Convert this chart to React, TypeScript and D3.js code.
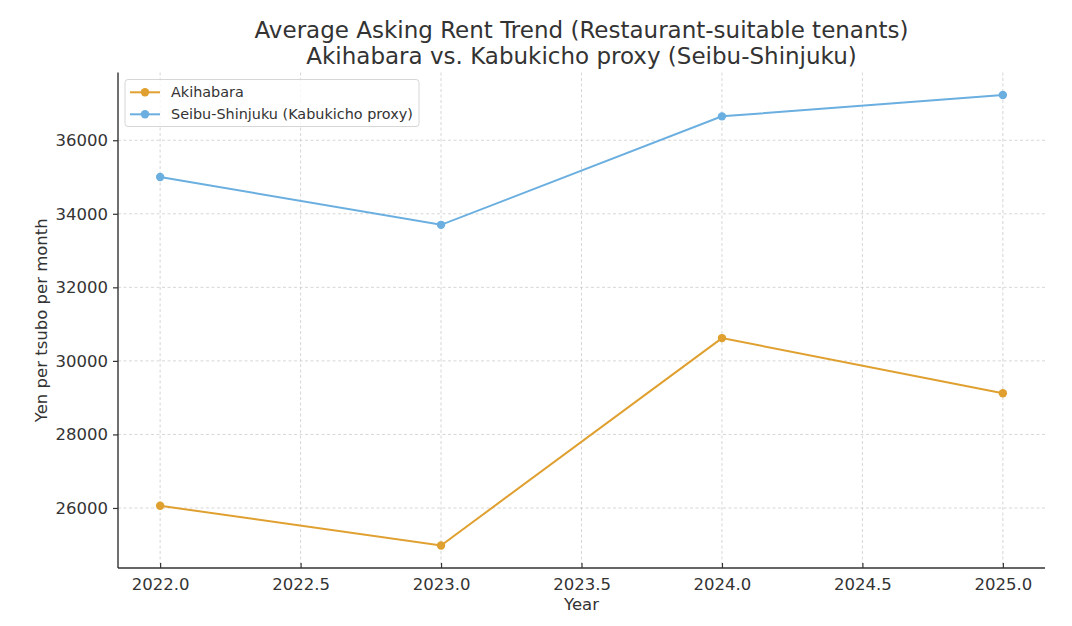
import { useEffect, useRef } from "react";
import * as d3 from "d3";

const years = [2022, 2023, 2024, 2025];
const akihabara = [26060, 24980, 30620, 29120];
const seibuShinjuku = [35000, 33700, 36650, 37230];
const xTicks = [2022.0, 2022.5, 2023.0, 2023.5, 2024.0, 2024.5, 2025.0];
const yTicks = [26000, 28000, 30000, 32000, 34000, 36000];
const seriesNames = ["Akihabara", "Seibu-Shinjuku (Kabukicho proxy)"];
const titleLines = [
    "Average Asking Rent Trend (Restaurant-suitable tenants)",
    "Akihabara vs. Kabukicho proxy (Seibu-Shinjuku)",
];

const W = 1072;
const H = 626;
const FONT = "'DejaVu Sans', sans-serif";
const TEXT = "#333333";
const colors = ["#E0A030", "#6AAFE0"];

export default function App() {
    const svgRef = useRef<SVGSVGElement | null>(null);

    useEffect(() => {
        const svg = d3.select(svgRef.current!);
        svg.selectAll("*").remove();

        const left = 118, right = 1045, top = 72.5, bottom = 568;

        const xPad = (d3.max(years)! - d3.min(years)!) * 0.05;
        const x = d3.scaleLinear()
            .domain([d3.min(years)! - xPad, d3.max(years)! + xPad])
            .range([left, right]);

        const all = [...akihabara, ...seibuShinjuku];
        const yPad = (d3.max(all)! - d3.min(all)!) * 0.05;
        const y = d3.scaleLinear()
            .domain([d3.min(all)! - yPad, d3.max(all)! + yPad])
            .range([bottom, top]);

        // grid
        const grid = svg.append("g")
            .attr("stroke", "#cccccc")
            .attr("stroke-width", 0.8)
            .attr("stroke-dasharray", "3,2.5");
        grid.selectAll("line.vx").data(xTicks).join("line")
            .attr("x1", d => x(d)).attr("x2", d => x(d))
            .attr("y1", top).attr("y2", bottom);
        grid.selectAll("line.hy").data(yTicks).join("line")
            .attr("x1", left).attr("x2", right)
            .attr("y1", d => y(d)).attr("y2", d => y(d));

        // series
        const line = d3.line<number>()
            .x((_, i) => x(years[i]))
            .y(d => y(d));
        [akihabara, seibuShinjuku].forEach((vals, k) => {
            const g = svg.append("g");
            g.append("path")
                .datum(vals)
                .attr("d", line)
                .attr("fill", "none")
                .attr("stroke", colors[k])
                .attr("stroke-width", 2);
            g.selectAll("circle").data(vals).join("circle")
                .attr("cx", (_, i) => x(years[i]))
                .attr("cy", d => y(d))
                .attr("r", 4.2)
                .attr("fill", colors[k]);
        });

        // axes
        const xAxis = d3.axisBottom(x)
            .tickValues(xTicks)
            .tickFormat(d3.format(".1f"))
            .tickSize(-5)
            .tickPadding(10);
        const gx = svg.append("g")
            .attr("transform", `translate(0,${bottom})`)
            .call(xAxis);
        gx.select(".domain").remove();

        const yAxis = d3.axisLeft(y)
            .tickValues(yTicks)
            .tickFormat(d3.format("d"))
            .tickSize(5)
            .tickPadding(5);
        const gy = svg.append("g")
            .attr("transform", `translate(${left},0)`)
            .call(yAxis);
        gy.select(".domain").remove();

        [gx, gy].forEach(g => {
            g.selectAll("line").attr("stroke", TEXT).attr("stroke-width", 1.2);
            g.selectAll("text")
                .attr("fill", TEXT)
                .style("font-family", FONT)
                .style("font-size", "16.5px");
        });

        svg.append("line")
            .attr("x1", left).attr("x2", left)
            .attr("y1", top).attr("y2", bottom)
            .attr("stroke", TEXT).attr("stroke-width", 1.4);
        svg.append("line")
            .attr("x1", left).attr("x2", right)
            .attr("y1", bottom).attr("y2", bottom)
            .attr("stroke", TEXT).attr("stroke-width", 1.4);

        // axis labels
        svg.append("text")
            .attr("x", (left + right) / 2)
            .attr("y", 610)
            .attr("text-anchor", "middle")
            .attr("fill", TEXT)
            .style("font-family", FONT)
            .style("font-size", "16.5px")
            .text("Year");
        svg.append("text")
            .attr("transform", `translate(47,${(top + bottom) / 2}) rotate(-90)`)
            .attr("text-anchor", "middle")
            .attr("fill", TEXT)
            .style("font-family", FONT)
            .style("font-size", "16.5px")
            .text("Yen per tsubo per month");

        // title
        svg.selectAll("text.title").data(titleLines).join("text")
            .attr("class", "title")
            .attr("x", (left + right) / 2)
            .attr("y", (_, i) => 37.5 + i * 26)
            .attr("text-anchor", "middle")
            .attr("fill", TEXT)
            .style("font-family", FONT)
            .style("font-size", "23px")
            .text(d => d);

        // legend
        const lg = svg.append("g");
        lg.append("rect")
            .attr("x", 125).attr("y", 79.5)
            .attr("width", 294).attr("height", 47)
            .attr("rx", 3)
            .attr("fill", "white")
            .attr("fill-opacity", 0.8)
            .attr("stroke", "#d6d6d6")
            .attr("stroke-width", 1);
        seriesNames.forEach((name, i) => {
            const cy = 92.3 + i * 22;
            lg.append("line")
                .attr("x1", 130).attr("x2", 160)
                .attr("y1", cy).attr("y2", cy)
                .attr("stroke", colors[i]).attr("stroke-width", 2);
            lg.append("circle")
                .attr("cx", 145).attr("cy", cy).attr("r", 4.2)
                .attr("fill", colors[i]);
            lg.append("text")
                .attr("x", 171).attr("y", cy)
                .attr("dy", "0.35em")
                .attr("fill", TEXT)
                .style("font-family", FONT)
                .style("font-size", "14.4px")
                .text(name);
        });
    }, []);

    return (
        <div style={{ position: "absolute", left: 0, top: 0, width: W, height: H, background: "white" }}>
            <svg ref={svgRef} width={W} height={H} />
        </div>
    );
}
